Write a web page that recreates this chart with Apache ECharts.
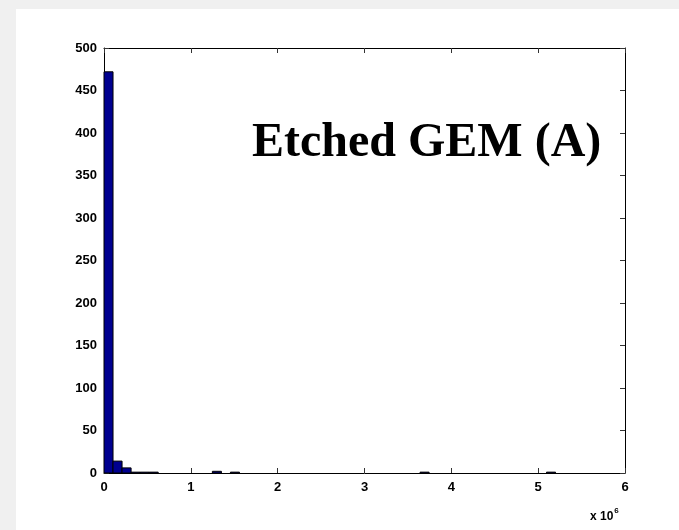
<!DOCTYPE html>
<html>
<head>
<meta charset="utf-8">
<script src="https://cdn.jsdelivr.net/npm/echarts@6/dist/echarts.min.js"></script>
<style>
  html, body { margin: 0; padding: 0; background: #f0f0f0; }
  #frame { position: absolute; left: 16px; top: 9px; right: 0; bottom: 0; background: #ffffff; }
  #chart { position: absolute; left: 0; top: 0; width: 679px; height: 530px; }
</style>
</head>
<body>
<div id="frame"></div>
<div id="chart"></div>
<script>
// Histogram of 500 samples, 50 equal bins from 0 to 5.2 (x 10^6)
const binWidth = 0.104;
const binCounts = [
  472, 14, 6, 1, 1, 1, 0, 0, 0, 0,
  0, 0, 2, 0, 1, 0, 0, 0, 0, 0,
  0, 0, 0, 0, 0, 0, 0, 0, 0, 0,
  0, 0, 0, 0, 0, 1, 0, 0, 0, 0,
  0, 0, 0, 0, 0, 0, 0, 0, 0, 1
];
const xTicks = [0, 1, 2, 3, 4, 5, 6];
const yTicks = [0, 50, 100, 150, 200, 250, 300, 350, 400, 450, 500];
const titleText = 'Etched GEM (A)';

const bins = binCounts.map((c, i) => [i * binWidth, (i + 1) * binWidth, c]);

const labelFont = { fontFamily: 'Liberation Sans', fontWeight: 'bold', fontSize: 13, color: '#000' };
const tickStyle = { show: true, inside: true, length: 5, lineStyle: { color: '#333', width: 1 } };
const lineStyle = { show: true, onZero: false, lineStyle: { color: '#000', width: 1 } };

const chart = echarts.init(document.getElementById('chart'), null, { renderer: 'canvas' });
chart.setOption({
  backgroundColor: 'transparent',
  animation: false,
  grid: { left: 104, right: 54, top: 48, bottom: 57 },
  xAxis: [
    {
      type: 'value', min: xTicks[0], max: xTicks[xTicks.length - 1], interval: 1,
      axisLine: lineStyle, axisTick: tickStyle, splitLine: { show: false },
      axisLabel: Object.assign({ margin: 8 }, labelFont)
    },
    {
      type: 'value', position: 'top', min: xTicks[0], max: xTicks[xTicks.length - 1], interval: 1,
      axisLine: lineStyle, axisTick: tickStyle, splitLine: { show: false },
      axisLabel: { show: false }
    }
  ],
  yAxis: [
    {
      type: 'value', min: yTicks[0], max: yTicks[yTicks.length - 1], interval: 50,
      axisLine: lineStyle, axisTick: tickStyle, splitLine: { show: false },
      axisLabel: Object.assign({ margin: 7 }, labelFont)
    },
    {
      type: 'value', position: 'right', min: yTicks[0], max: yTicks[yTicks.length - 1], interval: 50,
      axisLine: lineStyle, axisTick: tickStyle, splitLine: { show: false },
      axisLabel: { show: false }
    }
  ],
  series: [{
    type: 'custom',
    xAxisIndex: 0,
    yAxisIndex: 0,
    data: bins,
    encode: { x: [0, 1], y: 2 },
    renderItem: function (params, api) {
      if (api.value(2) <= 0) return null;
      const p0 = api.coord([api.value(0), api.value(2)]);
      const p1 = api.coord([api.value(1), 0]);
      return {
        type: 'rect',
        shape: { x: p0[0], y: p0[1], width: p1[0] - p0[0], height: p1[1] - p0[1] },
        style: { fill: '#00008f', stroke: '#000000', lineWidth: 1 }
      };
    },
    z: 1
  }],
  graphic: [
    {
      type: 'text', left: 252, top: 120, z: 10,
      style: { text: titleText, fontFamily: 'Liberation Serif', fontWeight: 'bold', fontSize: 48, fill: '#000' }
    },
    {
      type: 'text', left: 590, top: 507, z: 10,
      style: {
        text: '{b|x 10}{s|6}',
        rich: {
          b: { fontFamily: 'Liberation Sans', fontWeight: 'bold', fontSize: 12, fill: '#000', verticalAlign: 'bottom' },
          s: { fontFamily: 'Liberation Sans', fontWeight: 'bold', fontSize: 8, fill: '#000', padding: [0, 0, 8, 1] }
        }
      }
    }
  ]
});
</script>
</body>
</html>
